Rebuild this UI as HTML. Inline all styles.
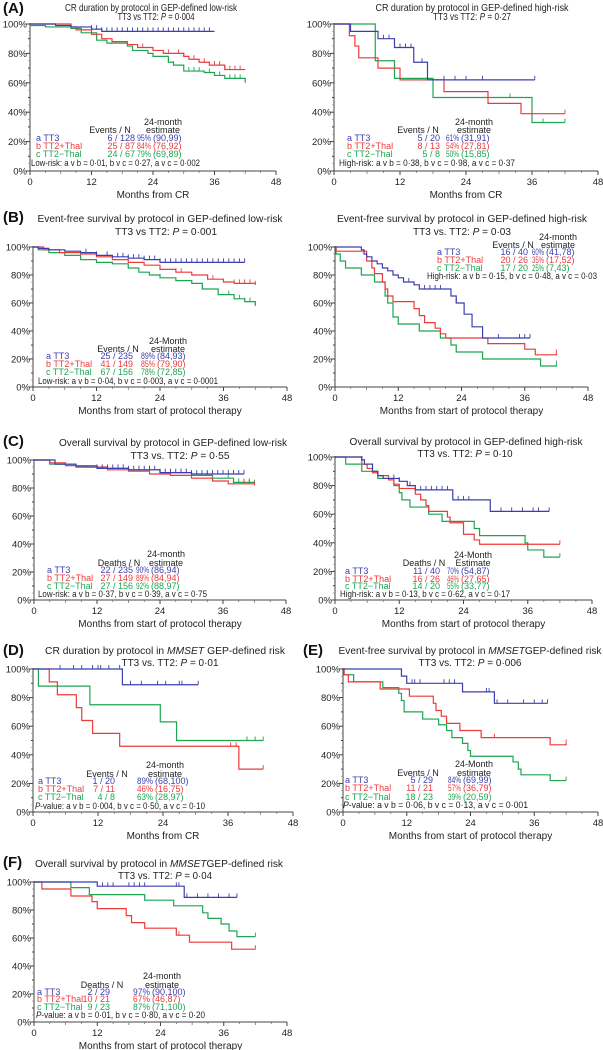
<!DOCTYPE html>
<html><head><meta charset="utf-8"><style>
html,body{margin:0;padding:0;background:#fff}
svg{display:block;font-family:"Liberation Sans",Arial,sans-serif}
</style></head><body>
<svg id="fig" width="603" height="1050" viewBox="0 0 603 1050" xmlns="http://www.w3.org/2000/svg"></svg>
<script>
// ---- data: step times (months) and survival (%) ; last entry = end of follow-up ----
const A1_a_t=[0,5,8,12,14,36];      const A1_a_s=[100,99,98,96.5,95,95];
const A1_b_t=[0,8,9,12,14,16,19,21,24,26,30,31,33,35,38,42]; const A1_b_s=[100,98,96,93,90,88,86,84,82,80,78,76,74,72,69,69];
const A1_c_t=[0,3,8,10,13,15,19,20,23,24,27,28,30,34,36,38,42]; const A1_c_s=[99,98,97,94,89,87,85,82,80,78,74,72,68,67,65,63,60];
const A1_a_c=[12,13,14,15,16,17,18,19,20,21,22,23,24,25,26,27,28,29,30,31,32,33,34,35];
const A1_b_c=[22,27,29,30,32,34,36,37,38,39,40,41];
const A1_c_c=[27,28,31,32,33,35,37,39,40,41];

const A2_a_t=[0,3,8,11,14.5,17,36.5]; const A2_a_s=[100,95,90,84,74,62,62];
const A2_b_t=[0,2.8,3.8,4.5,8,12,20,28,34,42]; const A2_b_s=[100,92,85,77,70,62,54,46,39,39];
const A2_c_t=[0,7.5,11,18,36,42]; const A2_c_s=[100,75,63,50,33,33];
const A2_a_c=[9,10,12,13,14,16,20,22,24,27,36.5];
const A2_b_c=[36,42]; const A2_c_c=[32,38,42];

const B1_a_t=[0,1,3,6,9,12,15,18,21,24,40]; const B1_a_s=[100,99,98,97,96,94,93,92,91,89,89];
const B1_b_t=[0,2,5,9,12,15,18,21,24,27,30,33,36,38,42]; const B1_b_s=[100,98,96,95,93,91,89,87,84,82,80,77,75,74,73];
const B1_c_t=[0,1,3,6,9,12,15,18,20,22,24,27,30,32,35,38,40,42]; const B1_c_s=[100,98,96,94,91,89,88,85,82,80,78,76,74,70,66,63,61,58];
const B1_a_c=[10,12,14,16,17,18,19,20,21,22,23,24,25,26,27,28,29,30,31,32,33,34,35,36,37,38,39,40];
const B1_b_c=[27,28,34,38,39,40,41,42]; const B1_c_c=[24,32,37,38,39,40,41,42];

const B2_a_t=[0,5,5.5,6,7,8,9,10,11,12,13,15,16,22,23,24.5,26,28,37]; const B2_a_s=[100,98,95,93,90,88,85,83,80,78,75,73,70,65,60,52,43,35,35];
const B2_b_t=[0,0.2,6,7,7.5,9,9.5,10,11,15,16,17,19,20,21,29,36,38,42]; const B2_b_s=[100,97,90,85,81,75,70,65,61,56,51,46,42,38,35,31,27,23,24];
const B2_c_t=[0,0.2,1,2,5,7.5,9.5,10,11,12,16,20,22,23,28,39,42]; const B2_c_s=[100,95,90,85,80,75,65,60,50,45,40,35,30,25,20,15,16];
const B2_a_c=[14,17,18,19,20,23,31,35,36,37]; const B2_b_c=[42]; const B2_c_c=[42];

const C1_a_t=[0,4,8,12,18,24,30,40]; const C1_a_s=[100,97,95,94,93,91,90,90];
const C1_b_t=[0,3,6,10,14,18,22,26,30,34,37,42]; const C1_b_s=[100,98,96,95,93,92,90,89,87,85,83,82];
const C1_c_t=[0,3,8,12,18,24,30,34,38,42]; const C1_c_s=[100,97,96,94,93,91,89,87,84,83];
const C1_a_c=[12,13,14,15,16,17,18,19,20,21,22,23,24,25,26,27,28,29,30,31,32,33,34,35,36,37,38,39,40];
const C1_b_c=[26,38,40,41,42]; const C1_c_c=[22,28,33,37,39,40,41,42];

const C2_a_t=[0,5,5.5,7,8,9,12,13.5,15,22,29,40]; const C2_a_s=[100,98,95,90,87,85,83,80,77,70,62,62];
const C2_b_t=[0,5,6,7,8,10,11,12,15,16,17,17.5,21,21.5,24,26,27,42]; const C2_b_s=[100,95,92,89,87,84,81,78,74,70,66,62,58,54,46,42,39,39];
const C2_c_t=[0,2,5,8,11,12,12.5,14,17.5,20,26,27,35.5,36,39,42]; const C2_c_s=[100,95,90,85,80,75,70,65,60,55,50,45,40,35,30,30];
const C2_a_c=[5,11,12,14,16,17,18,19,20,21,23,24,25,31,33,35,37,38,40]; const C2_b_c=[42]; const C2_c_c=[42];

const D_a_t=[0,16.5,30.5]; const D_a_s=[100,89,89];
const D_b_t=[0,3,4.5,8,9,11,16,38,42.5]; const D_b_s=[100,91,82,73,64,55,46,30,30];
const D_c_t=[0,1,10.5,23.5,26.5,42.5]; const D_c_s=[100,88,75,63,50,50];
const D_a_c=[5,7.5,9,11,12,12.5,14,16,18,20,23,24.5,27,27.5,30.5]; const D_b_c=[36.5,37.5,42.5]; const D_c_c=[39.5,41,42.5];

const E_a_t=[0,11,12,22.5,28.5,38.5]; const E_a_s=[100,95,90,84,76,76];
const E_b_t=[0,0.2,1,7,12.5,17,17.5,18.5,19.5,22,26,39,42]; const E_b_s=[100,96,91,86,81,76,71,67,62,57,52,47,48];
const E_c_t=[0,0.2,2,7.5,10.5,11,11.5,15,18,19.5,20.5,22.5,23.5,24,32,33,33.5,39,42]; const E_c_s=[100,96,91,87,83,78,70,65,61,57,52,48,43,39,35,30,26,22,22];
const E_a_c=[13,13.5,14.5,19,20,21,27,27.5,29,31,34,36,37.5,38.5]; const E_b_c=[28.5,42]; const E_c_c=[42];

const F_a_t=[0,12,28.5,38.5]; const F_a_s=[100,97,89,89];
const F_b_t=[0,1.5,7,11,12,17.5,18.5,21,27,29.5,37.5,42]; const F_b_s=[100,95,90,86,81,76,71,67,62,57,52,52];
const F_c_t=[0,7,10.5,21,26.5,32,33,35.5,37,38.5,42]; const F_c_s=[100,96,91,87,83,78,74,70,65,61,61];
const F_a_c=[13,14,15,18,19,20,21,27,27.5,29,31,33,35,37,38.5]; const F_b_c=[27.5,42]; const F_c_c=[42];

const xTicks=[0,12,24,36,48];
const yTicks=[0,20,40,60,80,100];

const COL={a:'#3b3fae',b:'#ee3a3a',c:'#1ea552'};
const NS='http://www.w3.org/2000/svg';
const svg=document.getElementById('fig');
function mk(tag,attrs,parent){const e=document.createElementNS(NS,tag);for(const k in attrs)e.setAttribute(k,attrs[k]);(parent||svg).appendChild(e);return e;}
function txt(x,y,s,size,anchor,fill,parent,weight){const t=mk('text',{x:x,y:y,'font-size':size,'text-anchor':anchor||'start',fill:fill||'#111'},parent);if(weight)t.setAttribute('font-weight',weight);t.innerHTML=s;return t;}
function fit(t,w){t.setAttribute('textLength',w);t.setAttribute('lengthAdjust','spacingAndGlyphs');}
function fitMax(t,w){let n=0;try{n=t.getComputedTextLength();}catch(e){}if(!n||n>w)fit(t,w);}

const panels=[
 {id:'a-low',x0:30,x1:276,y0:171,y1:24,letter:'(A)',ly:13,title:['CR duration by protocol in GEP-defined low-risk','TT3 vs TT2: <tspan font-style="italic">P</tspan> = 0·004'],tc:[151,156],tw:[172,77],tys:[11,20],xl:'Months from CR',
  series:{a:[A1_a_t,A1_a_s,A1_a_c],b:[A1_b_t,A1_b_s,A1_b_c],c:[A1_c_t,A1_c_s,A1_c_c]},
  leg:{lx:36,cx:135,px:137,ix:153,rows:[141,149,157],hdr:['Events / N',110,133],h24:['24-month','estimate',163,125,133],p:['Low-risk: a v b = 0·01, b v c = 0·27, a v c = 0·002',31,166,169],
   vals:[['6 / 128','95%','(90,99)'],['25 / 87','84%','(76,92)'],['24 / 67','79%','(69,89)']]}},
 {id:'a-high',x0:334,x1:598,y0:171,y1:24,letter:'',title:['CR duration by protocol in GEP-defined high-risk','TT3 vs TT2: <tspan font-style="italic">P</tspan> = 0·27'],tc:[472,472],tw:[193,78],tys:[11,20],xl:'Months from CR',
  series:{a:[A2_a_t,A2_a_s,A2_a_c],b:[A2_b_t,A2_b_s,A2_b_c],c:[A2_c_t,A2_c_s,A2_c_c]},
  leg:{lx:347,cx:440,px:446,ix:461,rows:[141,149,157],hdr:['Events / N',418,133],h24:['24-month','estimate',474,125,133],p:['High-risk: a v b = 0·38, b v c = 0·98, a v c = 0·37',339,166,176],
   vals:[['5 / 20','61%','(31,91)'],['8 / 13','54%','(27,81)'],['5 / 8','50%','(15,85)']]}},
 {id:'b-low',x0:33,x1:287,y0:387,y1:247,letter:'(B)',ly:222,title:['Event-free survival by protocol in GEP-defined low-risk','TT3 vs  TT2: <tspan font-style="italic">P</tspan> = 0·001'],tc:[160,166],tw:[245,102],tys:[222,235],xl:'Months from start of protocol therapy',
  series:{a:[B1_a_t,B1_a_s,B1_a_c],b:[B1_b_t,B1_b_s,B1_b_c],c:[B1_c_t,B1_c_s,B1_c_c]},
  leg:{lx:46,cx:133,px:141,ix:157,rows:[359,367,375],hdr:['Events / N',118,352],h24:['24-Month','estimate',168,344,352],p:['Low-risk: a v b = 0·04, b v c = 0·003, a v c = 0·0001',38,384,180],
   vals:[['25 / 235','89%','(84,93)'],['41 / 149','85%','(79,90)'],['67 / 156','78%','(72,85)']]}},
 {id:'b-high',x0:335,x1:588,y0:387,y1:247,letter:'',title:['Event-free survival by protocol in GEP-defined high-risk','TT3 vs. TT2: <tspan font-style="italic">P</tspan> = 0·03'],tc:[462,462],tw:[250,98],tys:[222,235],xl:'Months from start of protocol therapy',
  series:{a:[B2_a_t,B2_a_s,B2_a_c],b:[B2_b_t,B2_b_s,B2_b_c],c:[B2_c_t,B2_c_s,B2_c_c]},
  leg:{lx:437,cx:528,px:532,ix:546,rows:[255,263,271],hdr:['Events / N',513,248],h24:['24-month','estimate',558,240,248],p:['High-risk: a v b = 0·15, b v c = 0·48, a v c = 0·03',427,279,170],
   vals:[['16 / 40','60%','(41,78)'],['20 / 26','35%','(17,52)'],['17 / 20','25%','(7,43)']]}},
 {id:'c-low',x0:34,x1:286,y0:600,y1:460,letter:'(C)',ly:446,title:['Overall survival by protocol in GEP-defined low-risk','TT3 vs. TT2: <tspan font-style="italic">P</tspan> = 0·55'],tc:[173,180],tw:[228,99],tys:[446,459],xl:'Months from start of protocol therapy',
  series:{a:[C1_a_t,C1_a_s,C1_a_c],b:[C1_b_t,C1_b_s,C1_b_c],c:[C1_c_t,C1_c_s,C1_c_c]},
  leg:{lx:47,cx:133,px:136,ix:151,rows:[573,581,589],hdr:['Deaths / N',119,566],h24:['24-month','estimate',166,557,566],p:['Low-risk: a v b = 0·37, b v c = 0·39, a v c = 0·75',38,597,169],
   vals:[['22 / 235','90%','(86,94)'],['27 / 149','89%','(84,94)'],['27 / 156','92%','(88,97)']]}},
 {id:'c-high',x0:335,x1:592,y0:600,y1:457,letter:'',title:['Overall survival by protocol in GEP-defined high-risk','TT3 vs. TT2: <tspan font-style="italic">P</tspan> = 0·10'],tc:[466,465],tw:[233,95],tys:[445,457],xl:'Months from start of protocol therapy',
  series:{a:[C2_a_t,C2_a_s,C2_a_c],b:[C2_b_t,C2_b_s,C2_b_c],c:[C2_c_t,C2_c_s,C2_c_c]},
  leg:{lx:345,cx:440,px:447,ix:461,rows:[574,582,589],hdr:['Deaths / N',424,566],h24:['24-Month','Estimate',473,558,566],p:['High-risk: a v b = 0·13, b v c = 0·62, a v c = 0·17',340,597,170],
   vals:[['11 / 40','70%','(54,87)'],['16 / 26','46%','(27,65)'],['14 / 20','55%','(33,77)']]}},
 {id:'d',x0:33,x1:293,y0:812,y1:669,letter:'(D)',ly:655,title:['CR  duration by protocol in <tspan font-style="italic">MMSET</tspan> GEP-defined risk','TT3 vs. TT2: <tspan font-style="italic">P</tspan> = 0·01'],tc:[165,170],tw:[240,97],tys:[654,666],xl:'Months from CR',
  series:{a:[D_a_t,D_a_s,D_a_c],b:[D_b_t,D_b_s,D_b_c],c:[D_c_t,D_c_s,D_c_c]},
  leg:{lx:38,cx:115,px:137,ix:155,rows:[784,792,800],hdr:['Events / N',107,777],h24:['24-month','estimate',165,768,777],p:['<tspan font-style="italic">P</tspan>-value: a v b = 0·004, b v c = 0·50, a v c = 0·10',35,809,170],
   vals:[['1 / 20','89%','(68,100)'],['7 / 11','46%','(16,75)'],['4 / 8','63%','(28,97)']]}},
 {id:'e',x0:343,x1:598,y0:812,y1:669,letter:'(E)',ly:655,lx:303,title:['Event-free survival by protocol in <tspan font-style="italic">MMSET</tspan>GEP-defined risk','TT3 vs. TT2: <tspan font-style="italic">P</tspan> = 0·006'],tc:[470,470],tw:[263,103],tys:[654,666],xl:'Months from start of protocol therapy',
  series:{a:[E_a_t,E_a_s,E_a_c],b:[E_b_t,E_b_s,E_b_c],c:[E_c_t,E_c_s,E_c_c]},
  leg:{lx:345,cx:433,px:448,ix:463,rows:[783,791,800],hdr:['Events / N',418,776],h24:['24-Month','estimate',474,767,776],p:['<tspan font-style="italic">P</tspan>-value: a v b = 0·06, b v c = 0·13, a v c = 0·001',343,808,185],
   vals:[['5 / 29','84%','(69,99)'],['11 / 21','57%','(36,79)'],['18 / 23','39%','(20,59)']]}},
 {id:'f',x0:34,x1:287,y0:1022,y1:882,letter:'(F)',ly:867,title:['Overall survival by protocol in <tspan font-style="italic">MMSET</tspan>GEP-defined risk','TT3 vs. TT2: <tspan font-style="italic">P</tspan> = 0·04'],tc:[159,165],tw:[248,94],tys:[867,879],xl:'Months from start of protocol therapy',
  series:{a:[F_a_t,F_a_s,F_a_c],b:[F_b_t,F_b_s,F_b_c],c:[F_c_t,F_c_s,F_c_c]},
  leg:{lx:37,cx:110,px:133,ix:152,rows:[995,1002,1010],hdr:['Deaths / N',102,988],h24:['24-month','estimate',162,979,988],p:['<tspan font-style="italic">P</tspan>-value: a v b = 0·01, b v c = 0·80, a v c = 0·20',36,1018,169],
   vals:[['2 / 29','97%','(90,100)'],['10 / 21','67%','(46,87)'],['9 / 23','87%','(71,100)']]}}
];

const names={a:'a TT3',b:'b TT2+Thal',c:'c TT2\u2212Thal'};
panels.forEach(p=>{
  const g=mk('g',{});
  
  
  const X=t=>p.x0+(p.x1-p.x0)*t/48;
  const Y=s=>p.y0+(p.y1-p.y0)*s/100;
  if(p.letter){const L=txt(p.lx||3,p.ly,p.letter,15,'start','#111',g,'bold');}
  p.title.forEach((s,i)=>{const T=txt(p.tc[i],p.tys[i],s,10.5,'middle','#222',g);fit(T,p.tw[i]);});
  const ax=mk('path',{d:`M${p.x0},${p.y1-1}V${p.y0}H${p.x1}`,stroke:'#444','stroke-width':1,fill:'none'},g);
  
  
  yTicks.forEach(v=>{
    mk('line',{x1:p.x0-4,x2:p.x0,y1:Y(v),y2:Y(v),stroke:'#444'},g);
    const t=txt(p.x0-3,Y(v)+3.5,v+'%',9.5,'end','#222',g);
    
    
    if(v<100){mk('line',{x1:p.x0-2,x2:p.x0,y1:Y(v+10),y2:Y(v+10),stroke:'#444'},g);
      mk('line',{x1:p.x0-2,x2:p.x0,y1:Y(v+5),y2:Y(v+5),stroke:'#888','stroke-width':0.6},g);mk('line',{x1:p.x0-2,x2:p.x0,y1:Y(v+15),y2:Y(v+15),stroke:'#888','stroke-width':0.6},g);}
  });
  xTicks.forEach(v=>{
    mk('line',{x1:X(v),x2:X(v),y1:p.y0,y2:p.y0+4,stroke:'#444'},g);
    const t=txt(X(v),p.y0+14,v,9.5,'middle','#222',g);
    
    
    if(v<48){[3,6,9].forEach(m=>mk('line',{x1:X(v+m),x2:X(v+m),y1:p.y0,y2:p.y0+(m===6?3:2),stroke:'#666','stroke-width':0.7},g));}
  });
  if(p.xl){const xl=txt((p.x0+p.x1)/2,p.y0+27,p.xl,10,'middle','#222',g);}
  ['c','b','a'].forEach(k=>{
    const [T,S,C]=p.series[k];
    let d=`M${X(T[0])},${Y(S[0])}`;
    for(let i=1;i<T.length;i++){d+=`H${X(T[i])}V${Y(S[i])}`;}
    const path=mk('path',{d:d,stroke:COL[k],'stroke-width':1.2,fill:'none'},g);
    
    
    const sAt=t=>{let s=S[0];for(let i=0;i<T.length;i++){if(T[i]<=t)s=S[i];}return s;};
    let cd='';
    C.forEach(t=>{const y=Y(sAt(t));cd+=`M${X(t)},${y}V${y-4}`;});
    const cp=mk('path',{d:cd,stroke:COL[k],'stroke-width':0.9,fill:'none'},g);
    
    
  });
  const L=p.leg;
  const lg=mk('g',{},g);
  
  
  txt(L.hdr[1],L.hdr[2],L.hdr[0],9,'middle','#222',lg);
  txt(L.h24[2],L.h24[3],L.h24[0],9,'middle','#222',lg);
  txt(L.h24[2],L.h24[4],L.h24[1],9,'middle','#222',lg);
  ['a','b','c'].forEach((k,i)=>{
    const y=L.rows[i];
    const e=txt(L.lx,y,names[k],9,'start',COL[k],lg);
    
    
    txt(L.cx,y,L.vals[i][0],9,'end',COL[k],lg);
    const px=Math.max(L.px,L.cx+2);
    const pt=txt(px,y,L.vals[i][1],9,'start',COL[k],lg);
    fitMax(pt,L.ix-px-2);
    txt(L.ix,y,L.vals[i][2],9,'start',COL[k],lg);
  });
  const pv=txt(L.p[1],L.p[2],L.p[0],9,'start','#222',lg);
  fit(pv,L.p[3]);
  
  
});
</script>
</body></html>
